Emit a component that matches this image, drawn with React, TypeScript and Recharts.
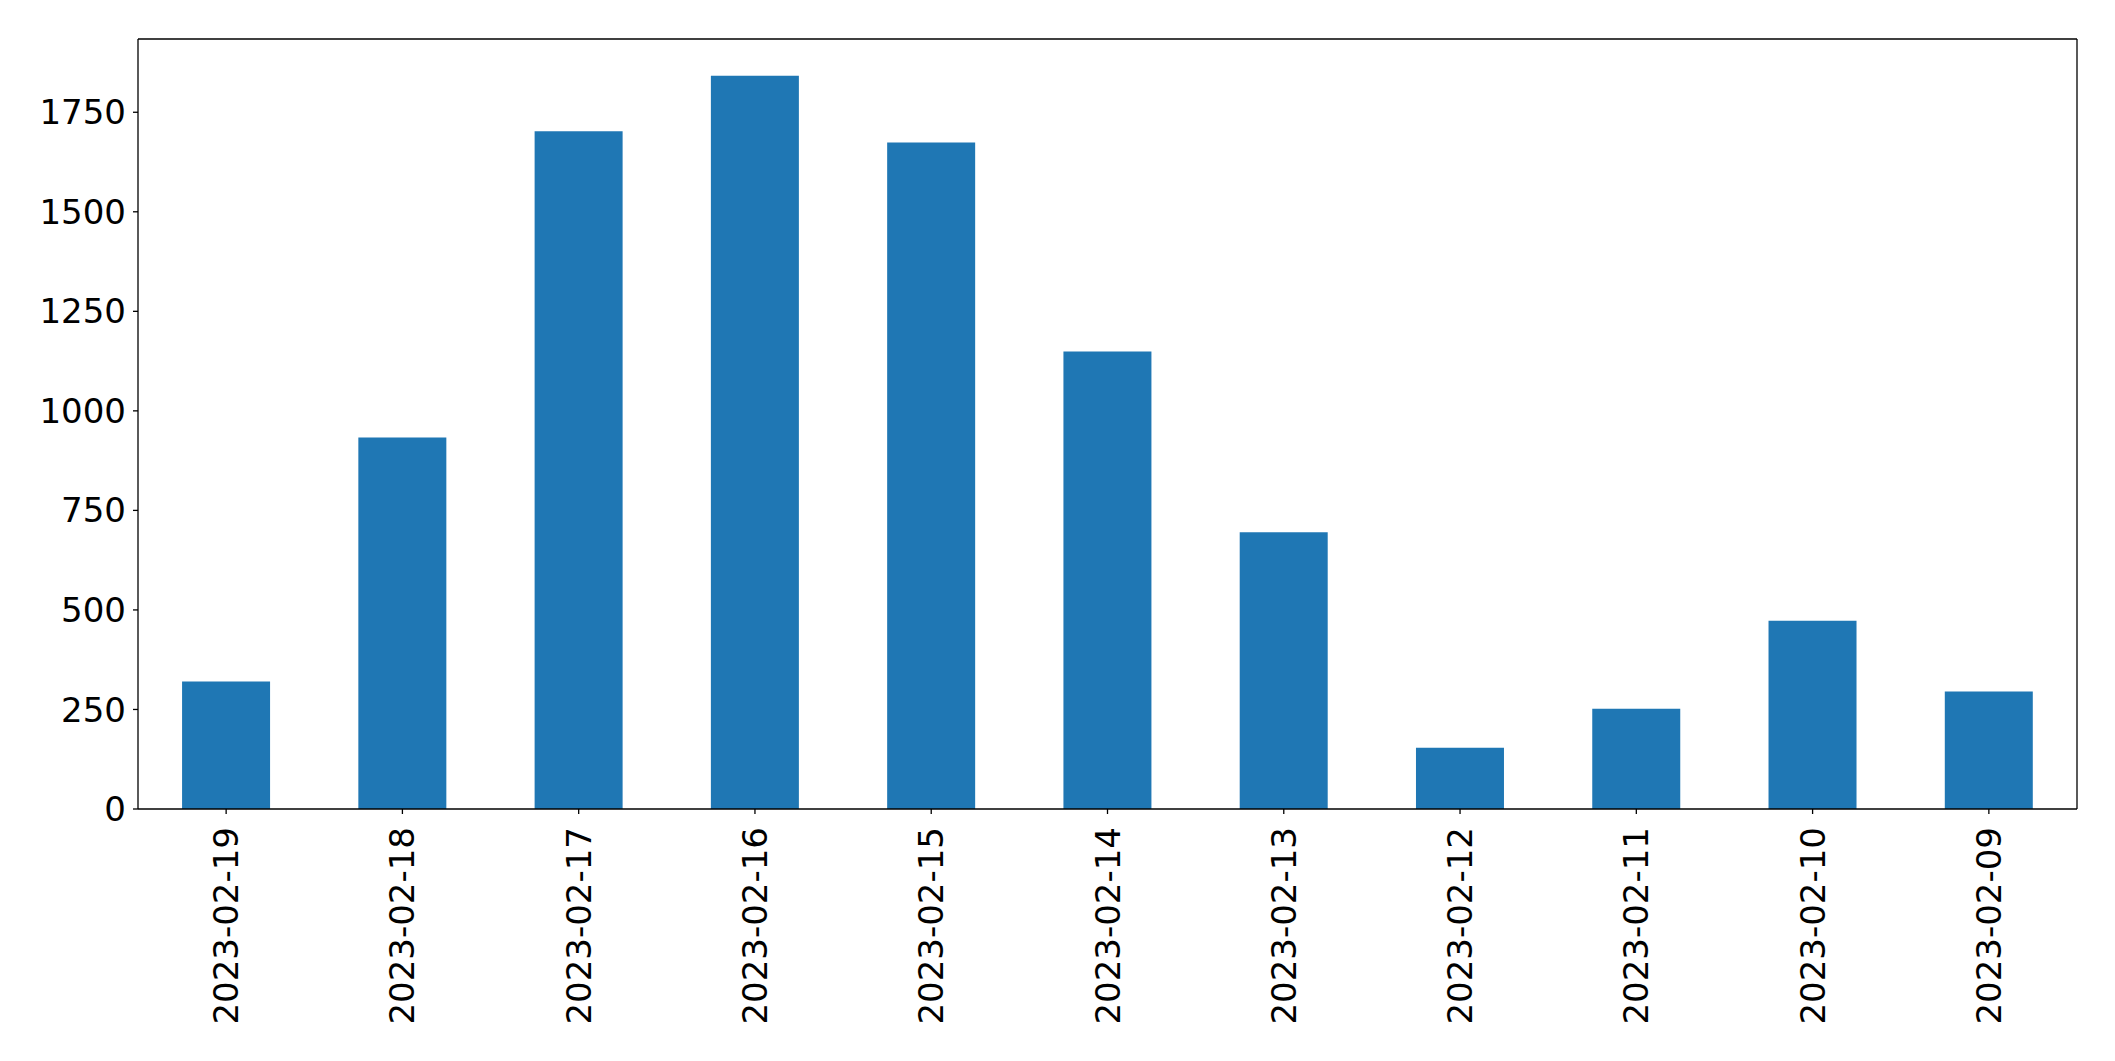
import React from "react";
import { BarChart, Bar, XAxis, YAxis } from "recharts";

const dates = [
  "2023-02-19",
  "2023-02-18",
  "2023-02-17",
  "2023-02-16",
  "2023-02-15",
  "2023-02-14",
  "2023-02-13",
  "2023-02-12",
  "2023-02-11",
  "2023-02-10",
  "2023-02-09",
];
const counts = [320, 933, 1702, 1842, 1674, 1149, 695, 154, 252, 473, 295];
const yTicks = [0, 250, 500, 750, 1000, 1250, 1500, 1750];

const chartData = dates.map((d, i) => ({ date: d, count: counts[i] }));

const FONT = "DejaVu Sans";
const FONT_SIZE = 34;

// rotated date labels, reading bottom to top like the original
const DateTick = ({ x, y, payload }: any) => (
  <text
    transform={`translate(${x},${y + 13}) rotate(-90)`}
    textAnchor="end"
    dominantBaseline="central"
    fontFamily={FONT}
    fontSize={FONT_SIZE}
    fill="#000"
  >
    {payload.value}
  </text>
);

export default function App() {
  return (
    <div style={{ position: "absolute", left: 0, top: 0, width: 2115, height: 1061, background: "#fff" }}>
      <BarChart
        width={2115}
        height={1061}
        data={chartData}
        margin={{ top: 38, right: 37, left: 0, bottom: 0 }}
        barCategoryGap="25%"
      >
        <XAxis
          dataKey="date"
          height={252}
          interval={0}
          tick={<DateTick />}
          tickSize={5}
          tickMargin={0}
          axisLine={{ stroke: "#000", strokeWidth: 1.3 }}
          tickLine={{ stroke: "#000", strokeWidth: 1.3 }}
        />
        <XAxis
          xAxisId="top"
          orientation="top"
          dataKey="date"
          height={1}
          tick={false}
          tickLine={false}
          axisLine={{ stroke: "#000", strokeWidth: 1.3 }}
        />
        <YAxis
          width={138}
          domain={[0, 1934]}
          ticks={yTicks}
          allowDataOverflow
          tickSize={5}
          tickMargin={7}
          tick={{ fontFamily: FONT, fontSize: FONT_SIZE, fill: "#000" }}
          axisLine={{ stroke: "#000", strokeWidth: 1.3 }}
          tickLine={{ stroke: "#000", strokeWidth: 1.3 }}
        />
        <YAxis
          yAxisId="right"
          orientation="right"
          width={1}
          domain={[0, 1934]}
          ticks={yTicks}
          tick={false}
          tickLine={false}
          axisLine={{ stroke: "#000", strokeWidth: 1.3 }}
        />
        <Bar dataKey="count" fill="#1f77b4" isAnimationActive={false} />
      </BarChart>
    </div>
  );
}
